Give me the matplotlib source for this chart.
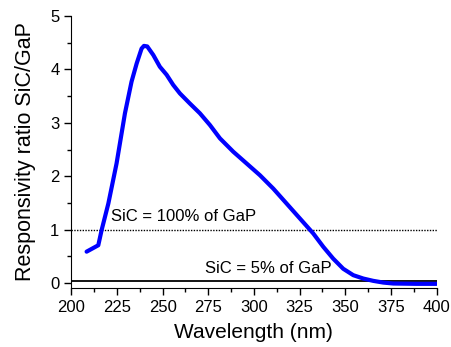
import matplotlib
matplotlib.use("Agg")
import matplotlib.pyplot as plt
from matplotlib.ticker import MultipleLocator

plt.rcParams['font.family'] = ['Liberation Sans', 'DejaVu Sans']

wavelength = [208.4, 214.8, 216.6, 220.3, 224.8, 229.4, 233.0, 235.8, 238.5, 239.8,
              241.6, 244.9, 248.5, 252.2, 255.8, 259.5, 265.0, 270.4, 275.9, 281.4,
              288.7, 296.0, 303.3, 310.6, 317.9, 325.2, 332.5, 338.0, 343.4, 348.9,
              354.4, 359.9, 365.3, 370.8, 376.3, 389.0, 400.0]
ratio = [0.59, 0.71, 0.99, 1.49, 2.24, 3.18, 3.77, 4.11, 4.39, 4.44,
         4.43, 4.27, 4.05, 3.90, 3.71, 3.55, 3.36, 3.18, 2.96, 2.71,
         2.46, 2.24, 2.02, 1.77, 1.49, 1.21, 0.93, 0.68, 0.46, 0.27,
         0.15, 0.087, 0.044, 0.012, -0.006, -0.012, -0.012]

level_100 = 1.0
level_5 = 0.05
label_100 = "SiC = 100% of GaP"
label_5 = "SiC = 5% of GaP"

fig = plt.figure(figsize=(4.51, 3.47), dpi=100)
ax = fig.add_axes([0.158, 0.170, 0.810, 0.784])

ax.axhline(level_100, color='black', linestyle=(0, (1, 1)), linewidth=1.0)
ax.axhline(level_5, color='black', linestyle='-', linewidth=1.3)
ax.plot(wavelength, ratio, color='#0000ff', linewidth=3.0, solid_capstyle='round')

ax.text(222, 1.24, label_100, fontsize=12, va='center', ha='left')
ax.text(273, 0.27, label_5, fontsize=12, va='center', ha='left')

ax.set_xlim(200, 400)
ax.set_ylim(-0.09, 5)
ax.xaxis.set_major_locator(MultipleLocator(25))
ax.xaxis.set_minor_locator(MultipleLocator(12.5))
ax.yaxis.set_major_locator(MultipleLocator(1))
ax.yaxis.set_minor_locator(MultipleLocator(0.5))
ax.tick_params(which='major', length=5, width=1, labelsize=12, direction='out')
ax.tick_params(which='minor', length=3, width=1, direction='out')
ax.spines['top'].set_visible(False)
ax.spines['right'].set_visible(False)

ax.set_xlabel("Wavelength (nm)", fontsize=15, labelpad=6)
ax.set_ylabel("Responsivity ratio SiC/GaP", fontsize=15.5, labelpad=10)

fig.savefig("out.png", dpi=100)
